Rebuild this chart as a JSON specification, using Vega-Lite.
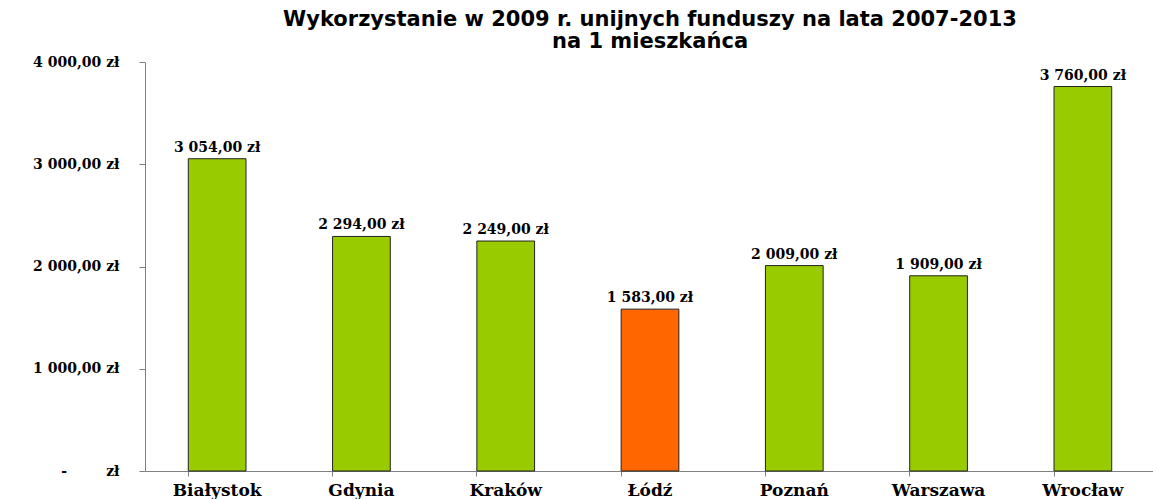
{
  "$schema": "https://vega.github.io/schema/vega-lite/v6.json",
  "width": 1010,
  "height": 409,
  "autosize": {"type": "none"},
  "padding": {"left": 145, "top": 62, "right": 0, "bottom": 28},
  "background": "white",
  "config": {
    "locale": {"number": {"decimal": ",", "thousands": "\u00a0", "grouping": [3], "currency": ["", " zł"]}},
    "view": {"stroke": null}
  },
  "title": {
    "text": ["Wykorzystanie w 2009 r. unijnych funduszy na lata 2007-2013", "na 1 mieszkańca"],
    "font": "DejaVu Sans",
    "fontSize": 21,
    "fontWeight": "bold",
    "color": "#000000",
    "anchor": "middle",
    "offset": 3,
    "lineHeight": 22
  },
  "data": {
    "values": [
      {"miasto": "Białystok", "wartosc": 3054, "typ": "inne"},
      {"miasto": "Gdynia", "wartosc": 2294, "typ": "inne"},
      {"miasto": "Kraków", "wartosc": 2249, "typ": "inne"},
      {"miasto": "Łódź", "wartosc": 1583, "typ": "lodz"},
      {"miasto": "Poznań", "wartosc": 2009, "typ": "inne"},
      {"miasto": "Warszawa", "wartosc": 1909, "typ": "inne"},
      {"miasto": "Wrocław", "wartosc": 3760, "typ": "inne"}
    ]
  },
  "encoding": {
    "x": {
      "field": "miasto",
      "type": "nominal",
      "sort": null,
      "scale": {"paddingInner": 0.6, "paddingOuter": 0.3},
      "axis": {
        "title": null,
        "labelAngle": 0,
        "bandPosition": 0,
        "domainColor": "#808080",
        "tickColor": "#808080",
        "tickSize": 5,
        "labelPadding": 6,
        "labelFont": "DejaVu Serif",
        "labelFontSize": 17,
        "labelFontWeight": "bold",
        "labelColor": "#000000",
        "labelBaseline": "top"
      }
    },
    "y": {
      "field": "wartosc",
      "type": "quantitative",
      "scale": {"domain": [0, 4000], "nice": false},
      "axis": {
        "title": null,
        "values": [0, 1000, 2000, 3000, 4000],
        "format": "$,.2f",
        "labelExpr": "datum.value == 0 ? '-\u00a0\u00a0\u00a0\u00a0\u00a0\u00a0\u00a0 zł' : datum.label",
        "grid": false,
        "domainColor": "#808080",
        "tickColor": "#808080",
        "tickSize": 6,
        "labelPadding": 20,
        "labelFont": "DejaVu Serif",
        "labelFontSize": 14,
        "labelFontWeight": "bold",
        "labelColor": "#000000"
      }
    }
  },
  "layer": [
    {
      "mark": {"type": "bar", "stroke": "#222222", "strokeWidth": 1},
      "encoding": {
        "color": {
          "field": "typ",
          "type": "nominal",
          "scale": {"domain": ["inne", "lodz"], "range": ["#99CC00", "#FF6600"]},
          "legend": null
        }
      }
    },
    {
      "mark": {"type": "text", "dy": -11, "font": "DejaVu Serif", "fontSize": 14, "fontWeight": "bold", "color": "#000000"},
      "encoding": {
        "text": {"field": "wartosc", "type": "quantitative", "format": "$,.2f"}
      }
    }
  ]
}
